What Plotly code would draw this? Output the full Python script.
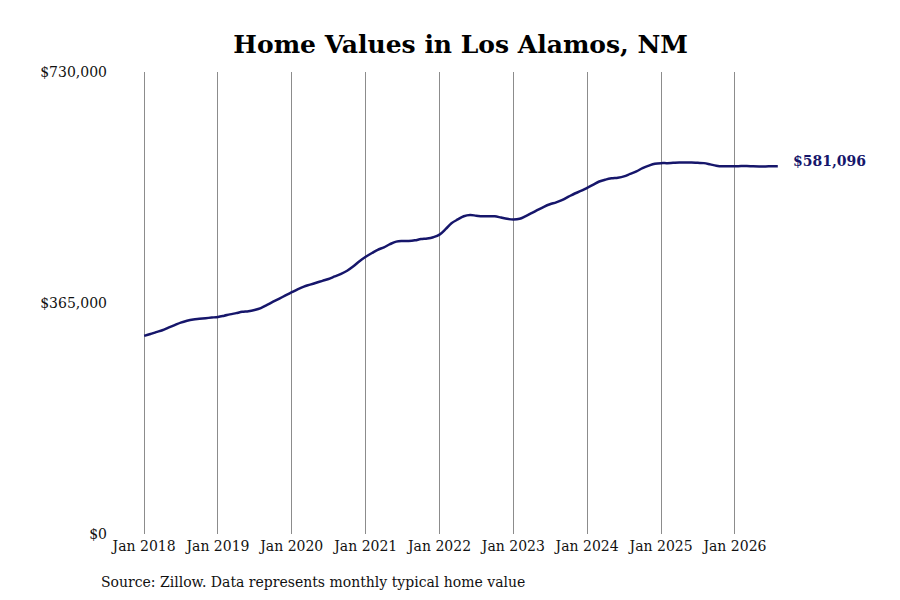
import pandas as pd
import plotly.graph_objects as go

# Monthly typical home value, Los Alamos NM
months = pd.date_range("2018-01-01", "2026-08-01", freq="MS")

values_2018 = [313000, 316000, 319000, 322000, 326000, 330000, 334000, 337000, 339000, 340000, 341000, 342000]
values_2019 = [343000, 345000, 347000, 349000, 351000, 352000, 354000, 357000, 362000, 367000, 372000, 377000]
values_2020 = [382000, 387000, 391000, 394000, 397000, 400000, 403000, 407000, 411000, 416000, 423000, 431000]
values_2021 = [438000, 444000, 449000, 453000, 458000, 462000, 463000, 463000, 464000, 466000, 467000, 469000]
values_2022 = [473000, 482000, 491000, 497000, 502000, 504000, 503000, 502000, 502000, 502000, 500000, 498000]
values_2023 = [497000, 498000, 502000, 507000, 512000, 517000, 521000, 524000, 528000, 533000, 538000, 542000]
values_2024 = [547000, 552000, 557000, 560000, 562000, 563000, 565000, 569000, 573000, 578000, 582000, 585000]
values_2025 = [586000, 586000, 586500, 587000, 587000, 587000, 586500, 586000, 584000, 582000, 581000, 581000]
values_2026 = [581000, 581500, 581500, 581000, 580800, 580800, 581000, 581096]

home_values = (values_2018 + values_2019 + values_2020 + values_2021 + values_2022
               + values_2023 + values_2024 + values_2025 + values_2026)

x_ticks = pd.date_range("2018-01-01", "2026-01-01", freq="YS")
x_tick_labels = [d.strftime("Jan %Y") for d in x_ticks]
y_ticks = [0, 365000, 730000]
y_tick_labels = ["$0", "$365,000", "$730,000"]

LINE_COLOR = "#16166b"
FONT = "DejaVu Serif"

W, H = 900, 600
ML, MR, MT, MB = 104, 93, 64, 74

fig = go.Figure()
fig.add_trace(go.Scatter(
    x=months, y=home_values, mode="lines",
    line=dict(color=LINE_COLOR, width=2.5, shape="spline"),
    hoverinfo="skip", showlegend=False,
))

# label at the last point
fig.add_annotation(
    x=months[-1], y=home_values[-1],
    text=f"<b>${home_values[-1]:,}</b>",
    showarrow=False, xanchor="left", xshift=13, yshift=5,
    font=dict(family=FONT, size=14, color=LINE_COLOR),
)

# source note, placed in pixels then converted to paper coords
fig.add_annotation(
    x=(91 - ML) / (W - ML - MR), y=(H - MB - 574) / (H - MT - MB),
    xref="paper", yref="paper",
    text="Source: Zillow. Data represents monthly typical home value",
    showarrow=False, xanchor="left", yanchor="middle",
    font=dict(family=FONT, size=14, color="#111111"),
)

fig.update_layout(
    width=W, height=H,
    margin=dict(l=ML, r=MR, t=MT, b=MB),
    plot_bgcolor="white", paper_bgcolor="white",
    font=dict(family=FONT, size=14, color="#111111"),
    title=dict(text="<b>Home Values in Los Alamos, NM</b>", x=0.503, xanchor="center",
               y=1 - 36 / H, yanchor="middle", font=dict(family=FONT, size=25, color="black")),
    xaxis=dict(range=["2017-07-26", "2027-02-01"], tickvals=x_ticks, ticktext=x_tick_labels,
               showgrid=True, gridcolor="#8c8c8c", gridwidth=1, zeroline=False,
               showline=False, ticks="", tickfont=dict(size=14), ticklabelstandoff=2),
    yaxis=dict(range=[0, 730000], tickvals=y_ticks, ticktext=y_tick_labels,
               showgrid=False, zeroline=False, showline=False, ticks="",
               tickfont=dict(size=14), ticklabelstandoff=4),
)

fig.write_html("out.html")
